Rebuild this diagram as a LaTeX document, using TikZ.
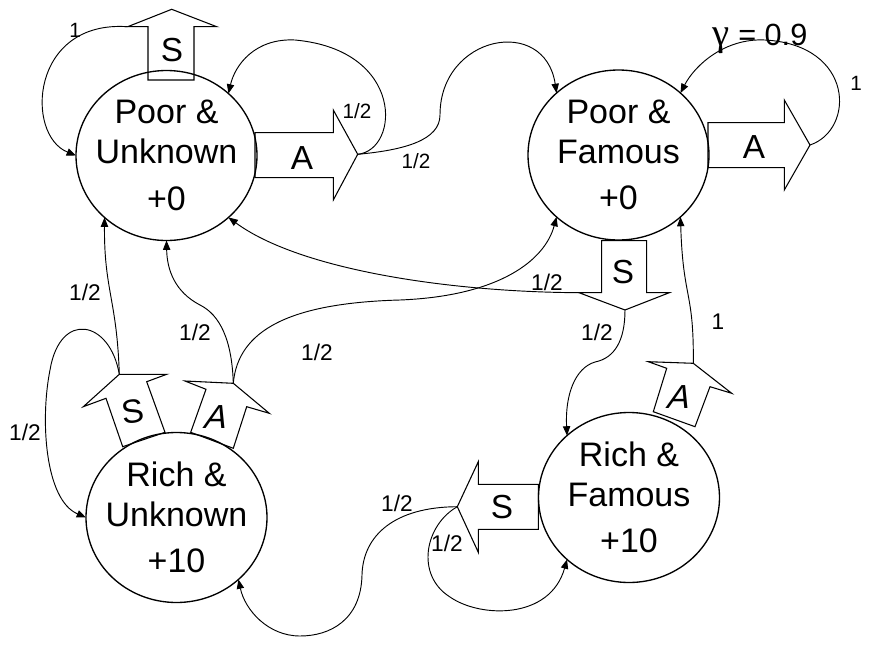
\documentclass[tikz,border=0pt]{standalone}
\usepackage{fontspec}
\setmainfont{Liberation Sans}
\newfontfamily\gfont{Liberation Serif}
\usetikzlibrary{arrows.meta,shapes.geometric}
\begin{document}
\begin{tikzpicture}[x=0.75pt,y=-0.75pt,
  state/.style={draw,line width=1pt,ellipse,minimum width=135.75pt,minimum height=127.5pt,inner sep=0pt,outer sep=0pt},
  statetext/.style={align=center,font=\fontsize{25.5}{30}\selectfont,inner sep=0pt},
  barrow/.style={draw,fill=white,line width=0.8pt,line join=miter},
  blabel/.style={font=\fontsize{25}{30}\selectfont,inner sep=0pt},
  conn/.style={line width=0.7pt,-{Triangle[length=7pt,width=5.5pt]}},
  prob/.style={font=\fontsize{17}{20}\selectfont,inner sep=0pt},
  probs/.style={font=\fontsize{15.5}{18}\selectfont,inner sep=0pt},
  one/.style={font=\fontsize{15.5}{18}\selectfont,inner sep=0pt},
  gam/.style={font=\fontsize{23}{27}\selectfont,inner sep=0pt}
]
\useasboundingbox (0,0) rectangle (876,650);
\fill[white] (0,0) rectangle (876,650);

% block arrows
\coordinate (puSl) at (127.7,26.7);
\coordinate (puSt) at (171.7,9.3);
\draw[barrow] (148,80) -- (148,26.7) -- (puSl) -- (puSt) -- (216.7,26.7) -- (194,26.7) -- (194,80) -- cycle;
\coordinate (puAt) at (357.7,154.3);
\draw[barrow] (255,132.7) -- (333.3,132.7) -- (333.3,110) -- (puAt) -- (333.3,200) -- (333.3,177.7) -- (255,177.7) -- cycle;
\coordinate (pfAt) at (810,145);
\draw[barrow] (708,122.7) -- (784.3,122.7) -- (784.3,100) -- (pfAt) -- (784.3,190) -- (784.3,167.7) -- (708,167.7) -- cycle;
\coordinate (pfSl) at (579,292.7);
\coordinate (pfSt) at (625,310);
\draw[barrow] (601.7,240.7) -- (646.7,240.7) -- (646.7,292.7) -- (669.3,292.7) -- (pfSt) -- (pfSl) -- (601.7,292.7) -- cycle;
\coordinate (rfSt) at (457.3,506.7);
\draw[barrow] (538.3,484.3) -- (478.3,484.3) -- (478.3,461.7) -- (rfSt) -- (478.3,552.3) -- (478.3,529.3) -- (538.3,529.3) -- cycle;
\coordinate (rfAt) at (693.3,363.3);
\draw[barrow] (653.3,411.7) -- (666.7,368.3) -- (648.3,361.7) -- (rfAt) -- (731.7,393.3) -- (710,386.7) -- (695,426.7) -- cycle;
\coordinate (ruSt) at (119.3,374.3);
\draw[barrow] (122.7,446.7) -- (106,398.3) -- (83.3,406.7) -- (ruSt) -- (166.7,374.3) -- (146.7,381.7) -- (165,432.3) -- cycle;
\coordinate (ruAt) at (233.3,383.3);
\draw[barrow] (190.7,432.3) -- (206,389.3) -- (185,381) -- (ruAt) -- (269.3,413.3) -- (246.7,406.7) -- (233.3,448.3) -- cycle;

% block arrow labels
\node[blabel] (lpuS) at (172,50) {S};
\node[blabel] (lpuA) at (302,158) {A};
\node[blabel] (lpfA) at (754,147) {A};
\node[blabel] (lpfS) at (623,272) {S};
\node[blabel] (lrfS) at (502,507) {S};
\node[blabel,xslant=0.3,transform shape] (lrfA) at (680,397) {A};
\node[blabel,rotate=8] (lruS) at (133,412) {S};
\node[blabel,xslant=0.3,transform shape] (lruA) at (217,417) {A};

% states
\node[state] (PU) at (166.5,155.5) {};
\node[statetext] (PUt) at (PU.center) {Poor \&\\Unknown\\[5pt]+0};
\node[state] (PF) at (618.5,155) {};
\node[statetext] (PFt) at (PF.center) {Poor \&\\Famous\\[5pt]+0};
\node[state] (RU) at (176.5,517.5) {};
\node[statetext] (RUt) at (RU.center) {Rich \&\\Unknown\\[5pt]+10};
\node[state] (RF) at (629,497.5) {};
\node[statetext] (RFt) at (RF.center) {Rich \&\\Famous\\[5pt]+10};

% connectors
\draw[conn] (puSl) .. controls (30,20) and (25,135) .. (PU.180);
\draw[conn] (puAt) .. controls (400,150) and (405,50) .. (295,40) .. controls (255,38) and (235,65) .. (PU.45);
\draw[conn] (puAt) .. controls (405,150) and (440,140) .. (440,115) .. controls (440,35) and (545,15) .. (PF.135);
\draw[conn] (pfAt) .. controls (855,130) and (855,45) .. (765,40) .. controls (725,38) and (695,65) .. (PF.45);
\draw[conn] (pfSl) .. controls (450,292) and (300,270) .. (PU.-45);
\draw[conn] (pfSt) .. controls (625,340) and (615,358) .. (595,362) .. controls (575,368) and (565,395) .. (RF.135);
\draw[conn] (rfAt) .. controls (694,290) and (683,300) .. (PF.-45);
\draw[conn] (ruSt) .. controls (117,300) and (104,290) .. (PU.-135);
\draw[conn] (ruSt) .. controls (110,320) and (60,310) .. (50,370) .. controls (40,420) and (45,500) .. (RU.180);
\draw[conn] (ruAt) .. controls (232,340) and (220,315) .. (200,305) .. controls (175,292) and (167,270) .. (PU.-90);
\draw[conn] (ruAt) .. controls (238,330) and (290,303) .. (400,300) .. controls (500,296) and (545,260) .. (PF.-135);
\draw[conn] (rfSt) .. controls (395,507) and (363,535) .. (362,575) .. controls (361,620) and (330,636) .. (300,636) .. controls (268,636) and (245,610) .. (RU.-45);
\draw[conn] (rfSt) .. controls (425,525) and (415,575) .. (450,597) .. controls (480,618) and (550,620) .. (RF.-135);

% probability labels
\node[one] (p1) at (75,30) {1};
\node[probs] (p2) at (357,111) {1/2};
\node[probs] (p3) at (416,161) {1/2};
\node[gam,anchor=base] (g) at (760,45) {{\gfont\fontsize{29}{30}\selectfont γ} = 0.9};
\node[one] (p4) at (856,83) {1};
\node[prob] (p5) at (547,282) {1/2};
\node[prob] (p6) at (597,332) {1/2};
\node[prob] (p7) at (718,322) {1};
\node[prob] (p8) at (85,292) {1/2};
\node[prob] (p9) at (195,332) {1/2};
\node[prob] (p10) at (317,352) {1/2};
\node[prob] (p11) at (25,432) {1/2};
\node[prob] (p12) at (397,503) {1/2};
\node[prob] (p13) at (447,543) {1/2};
\end{tikzpicture}
\end{document}
